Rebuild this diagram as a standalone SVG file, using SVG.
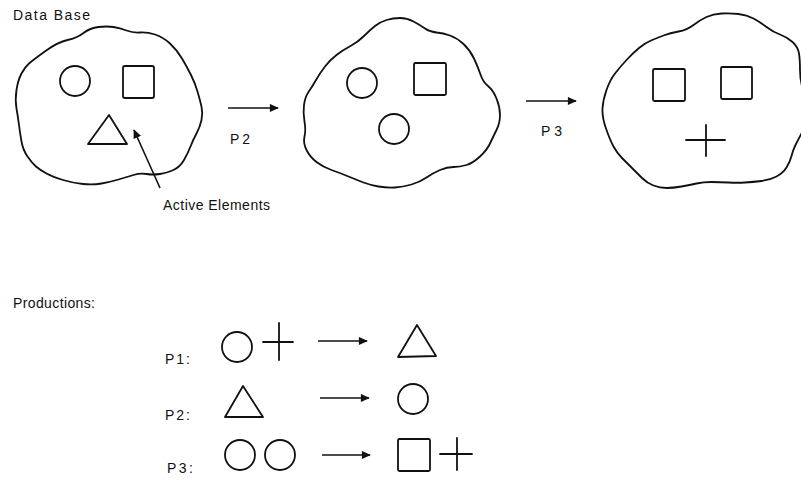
<svg xmlns="http://www.w3.org/2000/svg" width="801" height="481" viewBox="0 0 801 481">
  <style>
    .bg { fill: #ffffff; }
    .outline { fill: none; stroke: #111; stroke-width: 1.8; stroke-linejoin: round; stroke-linecap: round; }
    .sym { fill: none; stroke: #111; stroke-width: 1.8; stroke-linejoin: round; stroke-linecap: round; }
    .conn { fill: none; stroke: #111; stroke-width: 1.6; }
    .label { font-family: "Liberation Sans", Arial, sans-serif; font-size: 14px; fill: #111; }
  </style>
  <defs>
    <marker id="head" viewBox="0 0 10 10" refX="9" refY="5" markerWidth="10" markerHeight="9" markerUnits="userSpaceOnUse" orient="auto">
      <path d="M0,0.5 L10,5 L0,9.5 Z" fill="#111"/>
    </marker>
  </defs>

  <rect class="bg" x="0" y="0" width="801" height="481"/>

  <!-- Data base, first state -->
  <g id="db1">
    <text class="label" x="13" y="20" textLength="77" lengthAdjust="spacing">Data Base</text>
    <path class="outline" d="M45.5,51 Q58,42 67.5,40 Q77,38 83.5,33 Q90,28 98.5,27 Q107,26 113.5,27 Q120,28 126.5,30.5 Q133,33 140,32.5 Q147,32 155,34.5 Q163,37 170,43.5 Q177,50 182,58.5 Q187,67 191,75 Q195,83 197.5,91.5 Q200,100 201.5,106.5 Q203,113 201.5,120 Q200,127 196.5,133.5 Q193,140 190.5,146.5 Q188,153 184,160 Q180,167 173.5,170 Q167,173 160,174 Q153,175 146.5,174 Q140,173 133.5,175 Q127,177 118.5,179.5 Q110,182 101.5,183.5 Q93,185 83,184 Q73,183 63,180 Q53,177 46.5,173.5 Q40,170 36,166.5 Q32,163 27.5,156.5 Q23,150 21.5,141.5 Q20,133 19,125 Q18,117 16.5,108.5 Q15,100 16.5,90 Q18,80 21.5,73.5 Q25,67 29,63.5 Q33,60 45.5,51 Z"/>
    <circle class="sym" cx="75" cy="81" r="15"/>
    <rect class="sym" x="123" y="66" width="31" height="32" rx="2"/>
    <path class="sym" d="M109,115 L88,144 L127,144 Z"/>
  </g>

  <!-- Data base, after P2 -->
  <g id="db2">
    <path class="outline" d="M375,26 Q380,22 386.5,20 Q393,18 400,18 Q407,18 413.5,21.5 Q420,25 425,28.5 Q430,32 436.5,32.5 Q443,33 450,35.5 Q457,38 463.5,44 Q470,50 474,58.5 Q478,67 480.5,74.5 Q483,82 488,86 Q493,90 496.5,98.5 Q500,107 500,115 Q500,123 496.5,130 Q493,137 490,143.5 Q487,150 480,156.5 Q473,163 466.5,165 Q460,167 453.5,167 Q447,167 440,170 Q433,173 426.5,177.5 Q420,182 411.5,184.5 Q403,187 395,187.5 Q387,188 378.5,186.5 Q370,185 363.5,182.5 Q357,180 348.5,176.5 Q340,173 331.5,170 Q323,167 316.5,162 Q310,157 306.5,150 Q303,143 304.5,136.5 Q306,130 304.5,121.5 Q303,113 304,105 Q305,97 308.5,92 Q312,87 316,80 Q320,73 325,66.5 Q330,60 336.5,55 Q343,50 350.5,46 Q358,42 364,36 Q370,30 375,26 Z"/>
    <circle class="sym" cx="362" cy="83" r="15"/>
    <rect class="sym" x="414" y="63" width="32" height="32" rx="1.5"/>
    <circle class="sym" cx="394" cy="129" r="15"/>
  </g>

  <!-- Data base, after P3 -->
  <g id="db3">
    <path class="outline" d="M602.5,108.5 Q603,100 606.5,90 Q610,80 615,73.5 Q620,67 626.5,60 Q633,53 639,48 Q645,43 651,40.5 Q657,38 663.5,35.5 Q670,33 678.5,31.5 Q687,30 693.5,25 Q700,20 706.5,17 Q713,14 721.5,13.5 Q730,13 738.5,14 Q747,15 753.5,18.5 Q760,22 766.5,27 Q773,32 780,34.5 Q787,37 792.5,42 Q798,47 799,53.5 Q800,60 800,70 Q800,80 803,90 Q806,100 806,112.5 Q806,125 802,132.5 Q798,140 795.5,145 Q793,150 791.5,156 Q790,162 786.5,167.5 Q783,173 776.5,176.5 Q770,180 761.5,181 Q753,182 745,182.5 Q737,183 728.5,182.5 Q720,182 711.5,182 Q703,182 696.5,183.5 Q690,185 681.5,186.5 Q673,188 666.5,188 Q660,188 653.5,185.5 Q647,183 642,178 Q637,173 632,168 Q627,163 622,158 Q617,153 613.5,146.5 Q610,140 606,128.5 Q602,117 602.5,108.5 Z"/>
    <rect class="sym" x="653" y="69" width="32" height="32" rx="1.5"/>
    <rect class="sym" x="721" y="67" width="31" height="32" rx="1.5"/>
    <path class="sym" d="M686,140 H725 M706,125 V156"/>
  </g>

  <!-- Transition arrows and pointer -->
  <g id="connectors">
    <line class="conn" x1="228" y1="108" x2="278" y2="108" marker-end="url(#head)"/>
    <line class="conn" x1="526" y1="101" x2="576" y2="101" marker-end="url(#head)"/>
    <line class="conn" x1="160" y1="188" x2="134" y2="130" marker-end="url(#head)"/>
    <line class="conn" x1="318" y1="341" x2="367" y2="341" marker-end="url(#head)"/>
    <line class="conn" x1="320" y1="398" x2="369" y2="398" marker-end="url(#head)"/>
    <line class="conn" x1="322" y1="455" x2="370" y2="455" marker-end="url(#head)"/>
  </g>

  <g id="labels">
    <text class="label" x="230" y="144" textLength="20" lengthAdjust="spacing">P2</text>
    <text class="label" x="541" y="136" textLength="21" lengthAdjust="spacing">P3</text>
    <text class="label" x="163" y="210" textLength="107" lengthAdjust="spacing">Active Elements</text>
    <text class="label" x="13" y="308" textLength="82" lengthAdjust="spacing">Productions:</text>
  </g>

  <!-- Production rules -->
  <g id="rule-p1">
    <text class="label" x="165" y="364" textLength="25" lengthAdjust="spacing">P1:</text>
    <circle class="sym" cx="237" cy="347" r="15"/>
    <path class="sym" d="M263,342 H293 M279,323 V360"/>
    <path class="sym" d="M417,325 L398,357 L436,356 Z"/>
  </g>
  <g id="rule-p2">
    <text class="label" x="165" y="420" textLength="25" lengthAdjust="spacing">P2:</text>
    <path class="sym" d="M243,386 L225,417 L263,417 Z"/>
    <circle class="sym" cx="413" cy="399" r="15"/>
  </g>
  <g id="rule-p3">
    <text class="label" x="167" y="473" textLength="26" lengthAdjust="spacing">P3:</text>
    <circle class="sym" cx="240" cy="455" r="15"/>
    <circle class="sym" cx="280" cy="455" r="15"/>
    <rect class="sym" x="398" y="439" width="32" height="32" rx="1.5"/>
    <path class="sym" d="M440,454 H472 M457,438 V470"/>
  </g>
</svg>
